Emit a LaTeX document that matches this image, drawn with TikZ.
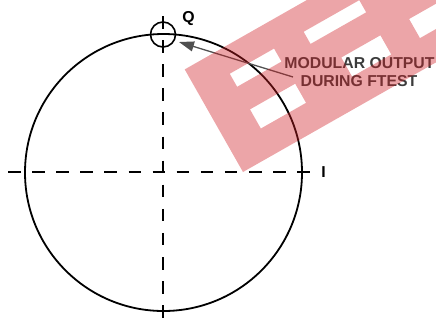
\documentclass[tikz,border=0pt]{standalone}
\usepackage{fontspec}
\setmainfont{Liberation Sans}
\usetikzlibrary{arrows.meta}
\definecolor{wm}{RGB}{207,30,37}
\definecolor{txtgray}{RGB}{60,60,60}
\definecolor{arrgray}{RGB}{80,80,80}
\begin{document}
\begin{tikzpicture}[x=1pt,y=-1pt,
  axisline/.style={line width=1.4pt, dash pattern=on 12.5pt off 11.6pt},
  lbl/.style={font=\fontsize{15.8}{18}\selectfont\bfseries, inner sep=0pt},
  ring/.style={circle, draw, inner sep=0pt}
  ]
\useasboundingbox (0,0) rectangle (436,325);
% axes
\coordinate (hl) at (8,172);
\coordinate (hr) at (310,172);
\coordinate (vt) at (163,16);
\coordinate (vb) at (163,318);
\draw[axisline] (hl) -- (hr);
\draw[axisline] (vt) -- (vb);
% circles
\node[ring, line width=1.8pt, minimum size=277pt] (big) at (163.5,172.5) {};
\node[ring, line width=1.6pt, minimum size=25pt] (qc) at (163,34.5) {};
% labels
\node[lbl] (Q) at (188.5,19) {Q};
\node[lbl] (I) at (323.5,172) {I};
\node[lbl, text=txtgray, anchor=base] (mo1) at (359.5,68.3) {MODULAR OUTPUT};
\node[lbl, text=txtgray, anchor=base] (mo2) at (359,86) {DURING FTEST};
% arrow
\coordinate (tip) at (179,42);
\coordinate (astart) at (293,77);
\draw[arrgray, line width=1.3pt, -{Triangle[length=15pt,width=10pt]}] (astart) -- (tip);
% watermark
\begin{scope}
\clip (0,0) rectangle (436,325);
\begin{scope}[shift={(243,172)}, rotate=29.6, y=1pt]
\fill[wm, fill opacity=0.4, even odd rule] (0,0) rectangle (320,118)
  (37,29) rectangle (89,51) (37,77) rectangle (88,92)
  (142,29) rectangle (187,51) (122,78) rectangle (186,92)
  (220,29) rectangle (290,51) (220,74) rectangle (290,92);
\end{scope}
\end{scope}
\end{tikzpicture}
\end{document}
